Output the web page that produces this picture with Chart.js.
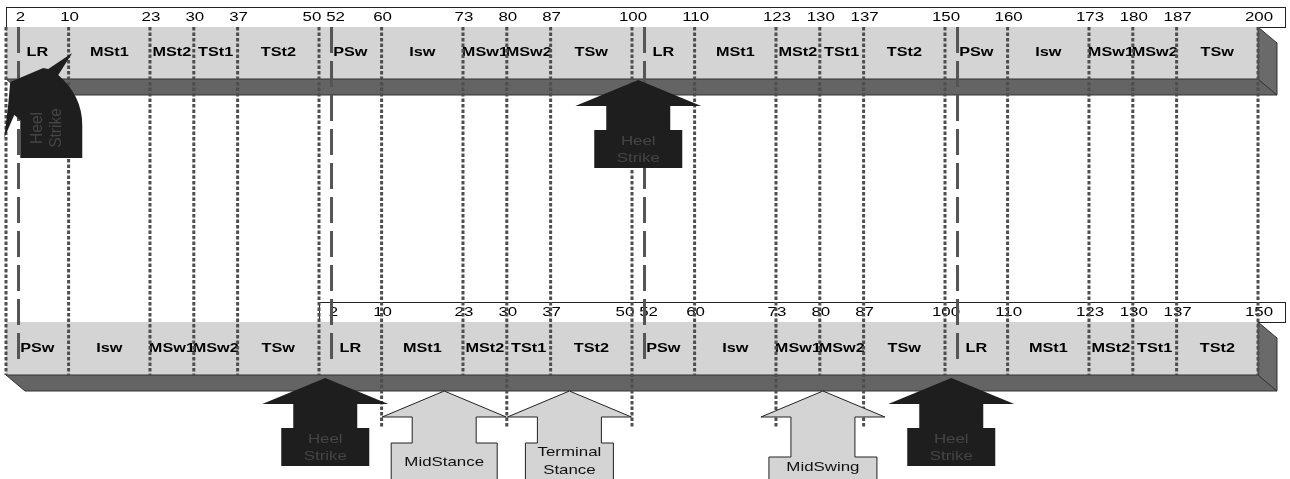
<!DOCTYPE html>
<html>
<head>
<meta charset="utf-8">
<script src="https://cdn.jsdelivr.net/npm/chart.js@4.4.1/dist/chart.umd.min.js"></script>
<style>
  html, body { margin: 0; padding: 0; background: #fff; }
  #wrap { width: 1290px; height: 479px; position: relative; }
</style>
</head>
<body>
<div id="wrap"><canvas id="gait"></canvas></div>
<script>
// gait cycle phases (percent of one cycle)
const phaseNames = ['LR', 'MSt1', 'MSt2', 'TSt1', 'TSt2', 'PSw', 'Isw', 'MSw1', 'MSw2', 'TSw'];
const phaseBounds = [0, 10, 23, 30, 37, 50, 60, 73, 80, 87, 100];

// tick labels written above each bar
const topTicks = [2, 10, 23, 30, 37, 50, 52, 60, 73, 80, 87, 100, 110, 123, 130, 137, 150, 160, 173, 180, 187, 200];
const bottomTicks = [2, 10, 23, 30, 37, 50, 52, 60, 73, 80, 87, 100, 110, 123, 130, 137, 150];

// ranges shown by each bar; bottom bar 0 sits under top bar 50
const topRange = [0, 200];
const bottomRange = [-50, 150];
const bottomShift = 50;

// long dashed markers (top scale)
const contactMarks = [2, 52, 102, 152];

// events
const curvedHeelStrike = 1;
const topHeelStrikes = [101];
const bottomHeelStrikes = [1, 101];
const bottomEventNames = [['MidStance'], ['Terminal', 'Stance'], ['MidSwing']];
const bottomEventAt = [20, 40, 80.5];
// bottom-scale bounds whose guide lines run down to the event arrows
const extendedBounds = [10, 30, 50, 73, 87];

// ---- layout / style (pixel rows on the y scale) ----
const FONT = '"Liberation Sans", Arial, sans-serif';
const STRETCH = 1.3;
const TOPBAR = { boxTop: 7, faceTop: 27, faceBottom: 79, bandBottom: 95, tickY: 17, labelY: 53 };
const BOTBAR = { boxTop: 302, faceTop: 322, faceBottom: 375, bandBottom: 391, tickY: 312, labelY: 349 };
const DEPTH = 19;
const tickNudge = { 2: 1, 50: -8, 52: 3 }; // keeps "50 52" apart
const blackArrow = { headHalf: 63, headH: 26, neckHalf: 32, neckH: 24, boxHalf: 44, boxH: 38 };
const grayArrowStyle = [
    { neckH: 26, boxHalf: 53, textY: [462] },
    { neckH: 26, boxHalf: 44, textY: [452, 470] },
    { neckH: 40, boxHalf: 54, textY: [467] }
];

function phaseSegments(range) {
    const segs = [];
    for (let k = Math.floor(range[0] / 100); k * 100 < range[1]; k++) {
        for (let i = 0; i < phaseNames.length; i++) {
            const s = Math.max(k * 100 + phaseBounds[i], range[0]);
            const e = Math.min(k * 100 + phaseBounds[i + 1], range[1]);
            if (e > s) segs.push({ name: phaseNames[i], mid: (s + e) / 2 });
        }
    }
    return segs;
}

function cycleBounds(range) {
    const out = [];
    for (let k = Math.floor(range[0] / 100); k * 100 <= range[1]; k++) {
        phaseBounds.forEach(b => {
            const v = k * 100 + b;
            if (v >= range[0] && v <= range[1] && !out.includes(v)) out.push(v);
        });
    }
    return out;
}

// guide lines, built from the bounds (top scale values)
const dottedData = [];
cycleBounds(topRange).forEach(v => {
    const reach = extendedBounds.includes(v - bottomShift) ? 428 : BOTBAR.faceBottom;
    dottedData.push({ x: v, y: TOPBAR.faceTop }, { x: v, y: reach }, { x: v, y: null });
});
const dashedData = [];
contactMarks.forEach(v => {
    dashedData.push({ x: v, y: TOPBAR.faceTop }, { x: v, y: 365 }, { x: v, y: null });
});

function wideText(ctx, text, x, y, sx) {
    ctx.save();
    ctx.translate(x, y);
    ctx.scale(sx, 1);
    ctx.fillText(text, 0, 0);
    ctx.restore();
}

function drawBar(chart, L, range, shift, ticks, tickLeft) {
    const ctx = chart.ctx;
    const X = v => chart.scales.x.getPixelForValue(v + shift);
    const Y = v => chart.scales.y.getPixelForValue(v);
    const x0 = X(range[0]), x1 = X(range[1]);

    // tick box
    ctx.fillStyle = '#fff';
    ctx.strokeStyle = '#222';
    ctx.lineWidth = 1;
    const bx = tickLeft, bw = x1 + 27 - tickLeft;
    ctx.fillRect(bx, Y(L.boxTop), bw, Y(L.faceTop) - Y(L.boxTop));
    ctx.strokeRect(bx + 0.5, Y(L.boxTop) + 0.5, bw, Y(L.faceTop) - Y(L.boxTop));

    // front face
    ctx.fillStyle = '#d4d4d4';
    ctx.fillRect(x0, Y(L.faceTop), x1 - x0, Y(L.faceBottom) - Y(L.faceTop));

    // under band
    ctx.beginPath();
    ctx.moveTo(x0, Y(L.faceBottom));
    ctx.lineTo(x1, Y(L.faceBottom));
    ctx.lineTo(x1 + DEPTH, Y(L.bandBottom));
    ctx.lineTo(x0 + DEPTH, Y(L.bandBottom));
    ctx.closePath();
    ctx.fillStyle = '#646464';
    ctx.fill();
    ctx.strokeStyle = '#333';
    ctx.stroke();

    // right side
    ctx.beginPath();
    ctx.moveTo(x1, Y(L.faceTop));
    ctx.lineTo(x1 + DEPTH, Y(L.faceTop) + 16);
    ctx.lineTo(x1 + DEPTH, Y(L.bandBottom));
    ctx.lineTo(x1, Y(L.faceBottom));
    ctx.closePath();
    ctx.fillStyle = '#6a6a6a';
    ctx.fill();
    ctx.stroke();

    // phase labels
    ctx.fillStyle = '#000';
    ctx.font = 'bold 12.5px ' + FONT;
    ctx.textAlign = 'center';
    ctx.textBaseline = 'middle';
    phaseSegments(range).forEach(p => wideText(ctx, p.name, X(p.mid), Y(L.labelY), STRETCH));

    // tick labels
    ctx.font = '13.5px ' + FONT;
    ticks.forEach(t => wideText(ctx, String(t), X(t) + 1 + (tickNudge[t] || 0), Y(L.tickY), 1.25));
}

function blockArrow(ctx, cx, tip, s, fill, stroke) {
    const h = tip + s.headH, n = h + s.neckH, b = n + s.boxH;
    ctx.beginPath();
    ctx.moveTo(cx, tip);
    ctx.lineTo(cx + s.headHalf, h);
    ctx.lineTo(cx + s.neckHalf, h);
    ctx.lineTo(cx + s.neckHalf, n);
    ctx.lineTo(cx + s.boxHalf, n);
    ctx.lineTo(cx + s.boxHalf, b);
    ctx.lineTo(cx - s.boxHalf, b);
    ctx.lineTo(cx - s.boxHalf, n);
    ctx.lineTo(cx - s.neckHalf, n);
    ctx.lineTo(cx - s.neckHalf, h);
    ctx.lineTo(cx - s.headHalf, h);
    ctx.closePath();
    ctx.fillStyle = fill;
    ctx.fill();
    if (stroke) {
        ctx.strokeStyle = stroke;
        ctx.lineWidth = 1;
        ctx.stroke();
    }
}

const barsPlugin = {
    id: 'bars',
    beforeDatasetsDraw(chart) {
        const xs = chart.scales.x;
        drawBar(chart, TOPBAR, topRange, 0, topTicks, xs.getPixelForValue(topRange[0]));
        drawBar(chart, BOTBAR, bottomRange, bottomShift, bottomTicks, xs.getPixelForValue(bottomShift));
    },
    afterDatasetsDraw(chart) {
        const ctx = chart.ctx;
        const X = v => chart.scales.x.getPixelForValue(v);
        const Y = v => chart.scales.y.getPixelForValue(v);
        ctx.save();
        ctx.textAlign = 'center';
        ctx.textBaseline = 'middle';

        // curved heel strike arrow at the start of the top bar
        const ax = X(curvedHeelStrike);
        ctx.beginPath();
        ctx.moveTo(ax + 60, Y(53));
        ctx.lineTo(ax + 46, Y(75));
        ctx.quadraticCurveTo(ax + 70, Y(96), ax + 70, Y(125));
        ctx.lineTo(ax + 70, Y(158));
        ctx.lineTo(ax + 8, Y(158));
        ctx.lineTo(ax + 8, Y(120));
        ctx.lineTo(ax + 2, Y(115));
        ctx.lineTo(ax - 8, Y(138));
        ctx.lineTo(ax - 4, Y(104));
        ctx.lineTo(ax - 2, Y(82));
        ctx.lineTo(ax + 31, Y(68));
        ctx.lineTo(ax + 36, Y(69));
        ctx.closePath();
        ctx.fillStyle = '#1e1e1e';
        ctx.fill();
        ctx.fillStyle = '#454545';
        ctx.font = '13.5px ' + FONT;
        [['Heel', 25], ['Strike', 44]].forEach(([t, dx]) => {
            ctx.save();
            ctx.translate(ax + dx, Y(128));
            ctx.rotate(-Math.PI / 2);
            ctx.scale(1.15, 1.2);
            ctx.fillText(t, 0, 0);
            ctx.restore();
        });

        // straight heel strike arrows
        const heel = (cx, tip) => {
            blockArrow(ctx, cx, tip, blackArrow, '#1e1e1e');
            ctx.fillStyle = '#454545';
            ctx.font = '13.5px ' + FONT;
            const boxTop = tip + blackArrow.headH + blackArrow.neckH;
            wideText(ctx, 'Heel', cx, boxTop + 11, 1.25);
            wideText(ctx, 'Strike', cx, boxTop + 28, 1.25);
        };
        topHeelStrikes.forEach(v => heel(X(v), Y(TOPBAR.faceBottom + 1)));
        bottomHeelStrikes.forEach(v => heel(X(v + bottomShift), Y(BOTBAR.faceBottom + 3)));

        // grey event arrows under the bottom bar
        bottomEventAt.forEach((v, i) => {
            const st = grayArrowStyle[i];
            const s = { headHalf: 62, headH: 26, neckHalf: 32, neckH: st.neckH, boxHalf: st.boxHalf, boxH: 60 };
            const cx = X(v + bottomShift);
            blockArrow(ctx, cx, Y(BOTBAR.bandBottom), s, '#d4d4d4', '#222');
            ctx.fillStyle = '#111';
            ctx.font = '13.5px ' + FONT;
            bottomEventNames[i].forEach((t, j) => wideText(ctx, t, cx, Y(st.textY[j]), 1.25));
        });
        ctx.restore();
    }
};

new Chart(document.getElementById('gait'), {
    type: 'scatter',
    data: {
        datasets: [
            {
                data: dottedData,
                showLine: true,
                spanGaps: false,
                clip: false,
                borderColor: '#4e4e4e',
                borderWidth: 3,
                borderDash: [3.5, 2],
                pointRadius: 0
            },
            {
                data: dashedData,
                showLine: true,
                spanGaps: false,
                clip: false,
                borderColor: '#555',
                borderWidth: 3,
                borderDash: [26, 8],
                pointRadius: 0
            }
        ]
    },
    options: {
        responsive: true,
        maintainAspectRatio: false,
        animation: false,
        layout: { padding: { left: 6, right: 32, top: 0, bottom: 0 } },
        plugins: { legend: { display: false }, tooltip: { enabled: false } },
        scales: {
            x: { type: 'linear', min: topRange[0], max: topRange[1], display: false },
            y: { type: 'linear', min: 0, max: 479, reverse: true, display: false }
        }
    },
    plugins: [barsPlugin]
});
</script>
</body>
</html>
